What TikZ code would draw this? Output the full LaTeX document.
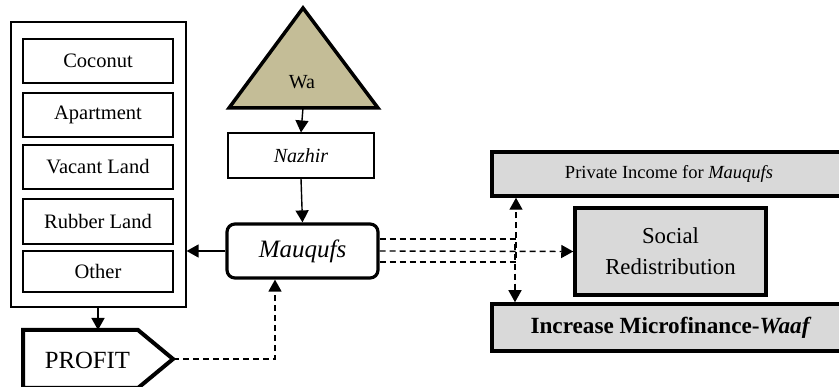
\documentclass[tikz,border=0pt]{standalone}
\usepackage{fontspec}
\setmainfont{Liberation Serif}
\newfontfamily\tnr{Liberation Serif}
\usetikzlibrary{arrows.meta}
\definecolor{tan}{RGB}{196,189,151}
\definecolor{boxgray}{RGB}{217,217,217}
\tikzset{
  fs/.style={font=\tnr\fontsize{#1}{#1}\selectfont},
  item/.style={draw, line width=1.4pt, minimum width=150pt, inner sep=0pt, fs=20.5},
  conn/.style={line width=1.4pt, -{Triangle[length=12pt,width=13pt]}},
  dconn/.style={line width=1.4pt, dash pattern=on 6pt off 4pt, -{Triangle[length=12pt,width=13pt]}},
  outbox/.style={draw, line width=3.5pt, fill=boxgray, inner sep=0pt},
}
\begin{document}
\begin{tikzpicture}[x=1pt,y=-1pt]
\useasboundingbox (0,0) rectangle (839,387);
\clip (0,0) rectangle (839,387);
% left container
\node[draw, line width=1.2pt, minimum width=175pt, minimum height=285pt, inner sep=0pt] (cont) at (98.5,164.5) {};
\node[item, minimum height=44pt] (coco) at (98,61) {Coconut};
\node[item, minimum height=44pt] (apt) at (98,115) {Apartment};
\node[item, minimum height=44pt] (vac) at (98,167) {Vacant Land};
\node[item, minimum height=45pt] (rub) at (98,221.5) {Rubber Land};
\node[item, minimum height=41pt] (oth) at (98,271.5) {Other};
% triangle
\draw[line width=3.5pt, fill=tan, line join=miter] (303,8) -- (378,108) -- (229,108) -- cycle;
\node[fs=20] (wa) at (302,82) {Wa};
\coordinate (tribase) at (303,108);
% Nazhir
\node[draw, line width=1.1pt, minimum width=146pt, minimum height=45pt, inner sep=0pt, font=\tnr\fontsize{20}{20}\selectfont\itshape] (naz) at (301,155.5) {Nazhir};
% Mauqufs
\node[draw, line width=3.2pt, rounded corners=8pt, minimum width=151pt, minimum height=54pt, inner sep=0pt, font=\tnr\fontsize{25}{25}\selectfont\itshape] (mau) at (302.5,251) {Mauqufs};
% PROFIT
\draw[line width=4pt, line join=miter] (23,330) -- (138,330) -- (173,359) -- (138,388) -- (23,388) -- cycle;
\node[fs=24.7] (profit) at (87.5,360) {PROFIT};
\coordinate (proftop) at (98,330);
\coordinate (proftip) at (173,359);
% right boxes
\node[outbox, minimum width=354pt, minimum height=44pt, fs=18.5] (priv) at (669,174) {Private Income for \textit{Mauqufs}};
\node[outbox, minimum width=191pt, minimum height=87pt, align=center, font=\tnr\fontsize{22.8}{31}\selectfont] (soc) at (670.5,251.5) {Social\\Redistribution};
\node[outbox, minimum width=358pt, minimum height=47pt, font=\tnr\fontsize{23.2}{23.2}\selectfont\bfseries] (inc) at (671,327.5) {Increase Microfinance-\textit{Waaf}};
% connectors
\draw[conn] (tribase) -- (naz.north);
\draw[conn] (naz.south) -- (mau.north);
\draw[conn] (mau.west) -- (mau.west -| cont.east);
\draw[conn] (cont.south -| proftop) -- (proftop);
\draw[dconn] (proftip) -| (mau.south -| 275,0);
\draw[dconn] ([yshift=-11pt]mau.east) -| (priv.south -| 516,0);
\draw[dconn] (mau.east) -- (soc.west);
\draw[dconn] ([yshift=12pt]mau.east) -| (inc.north -| 515,0);
\end{tikzpicture}
\end{document}
